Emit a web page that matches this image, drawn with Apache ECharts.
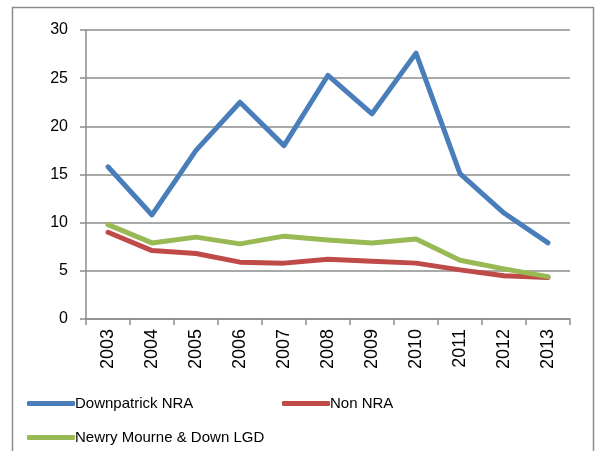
<!DOCTYPE html>
<html style="height: 100%">
<head>
<meta charset="utf-8">
<script src="https://cdn.jsdelivr.net/npm/echarts@6/dist/echarts.min.js"></script>
</head>
<body style="height: 100%; margin: 0; background: #fff">
<div id="main" style="width: 595px; height: 451px"></div>
<script>
var years = ['2003', '2004', '2005', '2006', '2007', '2008', '2009', '2010', '2011', '2012', '2013'];
var downpatrick = [15.8, 10.8, 17.5, 22.5, 18.0, 25.3, 21.3, 27.6, 15.1, 11.0, 7.9];
var nonNra = [9.0, 7.1, 6.8, 5.9, 5.8, 6.2, 6.0, 5.8, 5.1, 4.5, 4.3];
var lgd = [9.8, 7.9, 8.5, 7.8, 8.6, 8.2, 7.9, 8.3, 6.1, 5.2, 4.4];

var chart = echarts.init(document.getElementById('main'));
var font = 'Liberation Sans, Arial, sans-serif';
var legendBase = {
    icon: 'roundRect',
    itemWidth: 48,
    itemHeight: 5,
    itemGap: 0,
    textStyle: {fontFamily: font, fontSize: 15, color: '#000', padding: [0, 0, 0, -5]}
};

var option = {
    animation: false,
    graphic: [{
        type: 'rect',
        shape: {x: 12.5, y: 7.5, width: 581, height: 460},
        style: {fill: 'none', stroke: '#8c8c8c', lineWidth: 1.5}
    }],
    grid: {left: 86, right: 25, top: 30, bottom: 132},
    legend: [
        Object.assign({data: ['Downpatrick NRA'], left: 22, top: 391}, legendBase),
        Object.assign({data: ['Non NRA'], left: 277, top: 391}, legendBase),
        Object.assign({data: ['Newry Mourne & Down LGD'], left: 22, top: 425}, legendBase)
    ],
    xAxis: {
        type: 'category',
        data: years,
        boundaryGap: true,
        axisLine: {lineStyle: {color: '#8c8c8c', width: 1.5}},
        axisTick: {show: true, length: 6, lineStyle: {color: '#8c8c8c', width: 1.5}},
        axisLabel: {rotate: 90, fontFamily: font, fontSize: 18, color: '#000', margin: 10}
    },
    yAxis: {
        type: 'value',
        min: 0,
        max: 30,
        interval: 5,
        axisLine: {show: true, lineStyle: {color: '#8c8c8c', width: 1.5}},
        axisTick: {show: true, length: 6, lineStyle: {color: '#8c8c8c', width: 1.5}},
        splitLine: {lineStyle: {color: '#8c8c8c', width: 1.5}},
        axisLabel: {fontFamily: font, fontSize: 16, color: '#000', margin: 18}
    },
    series: [
        {name: 'Downpatrick NRA', type: 'line', data: downpatrick, symbol: 'none',
         lineStyle: {color: '#4a7ebb', width: 5, cap: 'round', join: 'round'}, itemStyle: {color: '#4a7ebb'}},
        {name: 'Non NRA', type: 'line', data: nonNra, symbol: 'none',
         lineStyle: {color: '#be4b48', width: 5, cap: 'round', join: 'round'}, itemStyle: {color: '#be4b48'}},
        {name: 'Newry Mourne & Down LGD', type: 'line', data: lgd, symbol: 'none',
         lineStyle: {color: '#98b954', width: 5, cap: 'round', join: 'round'}, itemStyle: {color: '#98b954'}}
    ]
};
chart.setOption(option);
</script>
</body>
</html>
